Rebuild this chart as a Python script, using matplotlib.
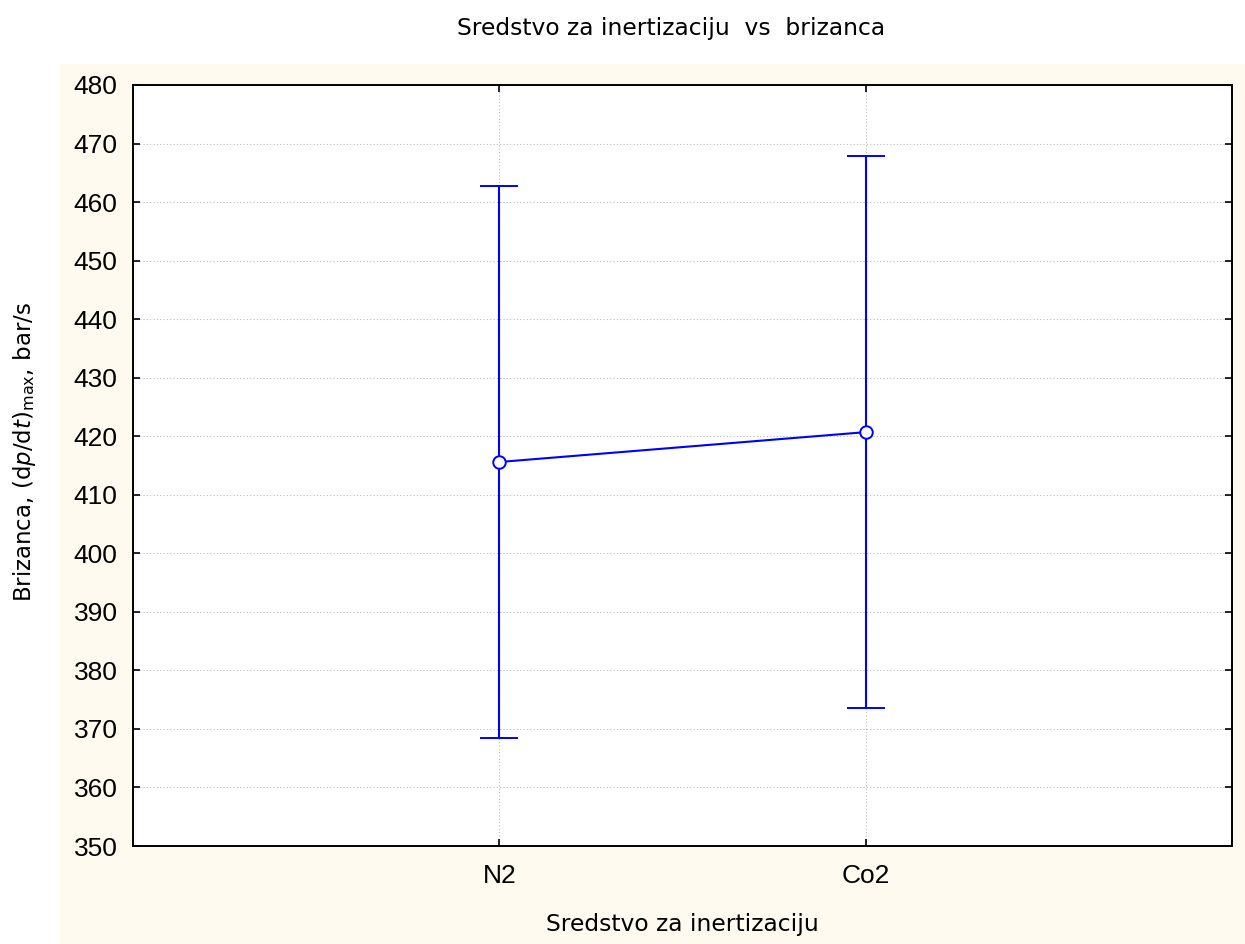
import numpy as np
import matplotlib.pyplot as plt
from matplotlib.patches import Rectangle

plt.rcParams['font.family'] = ['Liberation Sans', 'DejaVu Sans']
plt.rcParams['mathtext.fontset'] = 'custom'
plt.rcParams['mathtext.rm'] = 'DejaVu Sans'
plt.rcParams['mathtext.it'] = 'DejaVu Sans:italic'

# Data
categories = ['N2', 'Co2']
means = [415.6, 420.7]
lower = [368.5, 373.6]
upper = [462.7, 467.8]

x = np.arange(1, len(categories) + 1)
err = [np.array(means) - np.array(lower), np.array(upper) - np.array(means)]

fig = plt.figure(figsize=(12.45, 9.44), dpi=100)
fig.patch.set_facecolor('white')
# cream panel behind the plot
fig.patches.append(Rectangle((60 / 1245, 0), 1 - 60 / 1245, 1 - 64 / 944,
                             transform=fig.transFigure, facecolor='#fffaf0',
                             edgecolor='none', zorder=0))

ax = fig.add_axes([133 / 1245, 1 - 846 / 944, 1099 / 1245, 761 / 944])
ax.set_zorder(2)
ax.set_facecolor('white')

ax.errorbar(x, means, yerr=err, color='#0000ff', lw=1.5, elinewidth=1.5,
            capsize=13.5, capthick=1.5, marker='o', ms=9, mfc='white',
            mec='#0000ff', mew=1.4, zorder=3)

ax.set_xlim(0, 3)
ax.set_ylim(350, 480)
ax.set_yticks(np.arange(350, 481, 10))
ax.set_xticks(x)
ax.set_xticklabels(categories)
ax.grid(True, color='#bdbdbd', linestyle=(0, (1, 2)), linewidth=0.8)
ax.tick_params(direction='in', length=5, width=1.2, labelsize=19,
               top=True, right=True)
ax.tick_params(axis='y', pad=11)
ax.tick_params(axis='x', pad=13)
for s in ax.spines.values():
    s.set_linewidth(1.4)

ax.set_xlabel('Sredstvo za inertizaciju', fontsize=16.8, family='DejaVu Sans',
              labelpad=18)
fig.text(671 / 1245, 1 - 29 / 944, 'Sredstvo za inertizaciju  vs  brizanca',
         ha='center', va='center', fontsize=16.8, family='DejaVu Sans')
fig.text(25 / 1245, 1 - 452 / 944,
         r'Brizanca, (d$\mathit{p}$/d$\mathit{t}$)$_{\mathrm{max}}$, bar/s',
         rotation=90, ha='center', va='center', fontsize=16.5,
         family='DejaVu Sans')

fig.savefig('out.png', dpi=100)
